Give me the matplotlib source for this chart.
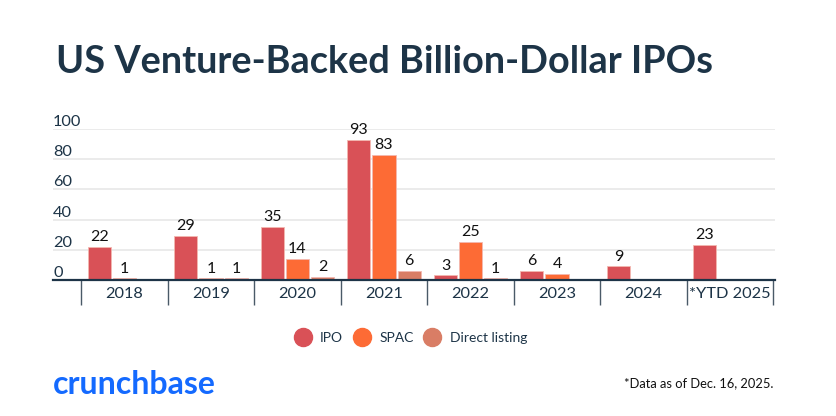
import matplotlib
matplotlib.use("Agg")
import matplotlib.pyplot as plt
from matplotlib.lines import Line2D
import numpy as np

years = ["2018", "2019", "2020", "2021", "2022", "2023", "2024", "*YTD 2025"]
ipo = [22, 29, 35, 93, 3, 6, 9, 23]
spac = [1, 1, 14, 83, 25, 4, 0, 0]
direct = [0, 1, 2, 6, 1, 0, 0, 0]
series_names = ["IPO", "SPAC", "Direct listing"]
colors = ["#D95157", "#FD6B35", "#D97D65"]
y_ticks = [0, 20, 40, 60, 80, 100]

NAVY = "#1D3447"
plt.rcParams["font.family"] = ["Lato", "DejaVu Sans"]

fig = plt.figure(figsize=(8.36, 4.16), dpi=100)
ax = fig.add_axes([53/836, 1-280/416, (775-53)/836, (280-129)/416])

x = np.arange(len(years))
w = 0.267
off = 0.29
for i, (vals, c) in enumerate(zip([ipo, spac, direct], colors)):
    pos = x + (i - 1) * off
    v = np.array(vals, dtype=float)
    ax.bar(pos, np.where(v > 0, v, np.nan), width=w, color=c,
           edgecolor="#F3B8B0", linewidth=0.6, zorder=3)
    for p, val in zip(pos, vals):
        if val > 0:
            ax.annotate(str(val), (p, val), xytext=(0, 2), textcoords="offset points",
                        ha="center", va="bottom", fontsize=11.5, color="#111111")

ax.set_ylim(0, 100)
ax.set_xlim(-0.826, 7.52)
for t in y_ticks:
    if t > 0:
        ax.axhline(t, color="#E9E9E9", lw=1.3, zorder=1)
    ax.text(0, t, str(t), transform=ax.get_yaxis_transform(), ha="left", va="bottom",
            fontsize=11.8, color=NAVY)

ax.set_yticks([])
for s in ["top", "right", "left"]:
    ax.spines[s].set_visible(False)
ax.spines["bottom"].set_color(NAVY)
ax.spines["bottom"].set_linewidth(1.6)
ax.spines["bottom"].set_zorder(4)

ax.set_xticks(x)
ax.set_xticklabels(years, fontsize=11.8, color=NAVY)
ax.tick_params(axis="x", length=0, pad=5)

bounds = np.arange(len(years) + 1) - 0.5
ax.vlines(bounds, -25/151, 0, transform=ax.get_xaxis_transform(), color="#4A5A68",
          lw=1.0, clip_on=False)

fig.text(56/836, 1-73/416, "US Venture-Backed Billion-Dollar IPOs", fontsize=27.3,
         fontweight="bold", color=NAVY, ha="left", va="baseline")

handles = [Line2D([], [], marker="o", ls="none", markersize=13, markerfacecolor=c,
                  markeredgecolor=c) for c in colors]
fig.legend(handles, series_names, loc="center", bbox_to_anchor=(0.491, 1-338/416),
           ncol=3, frameon=False, fontsize=10.0, handletextpad=0.6, columnspacing=0.7,
           handlelength=1.3, labelcolor=NAVY)

fig.text(53/836, 1-384/416, "crunchbase", fontsize=23, fontweight="bold",
         color="#146AFF", ha="left", va="center")
fig.text(773/836, 1-383/416, "*Data as of Dec. 16, 2025.", fontsize=9.3,
         color="#111111", ha="right", va="center")

fig.savefig("out.png", dpi=100, facecolor="white")
